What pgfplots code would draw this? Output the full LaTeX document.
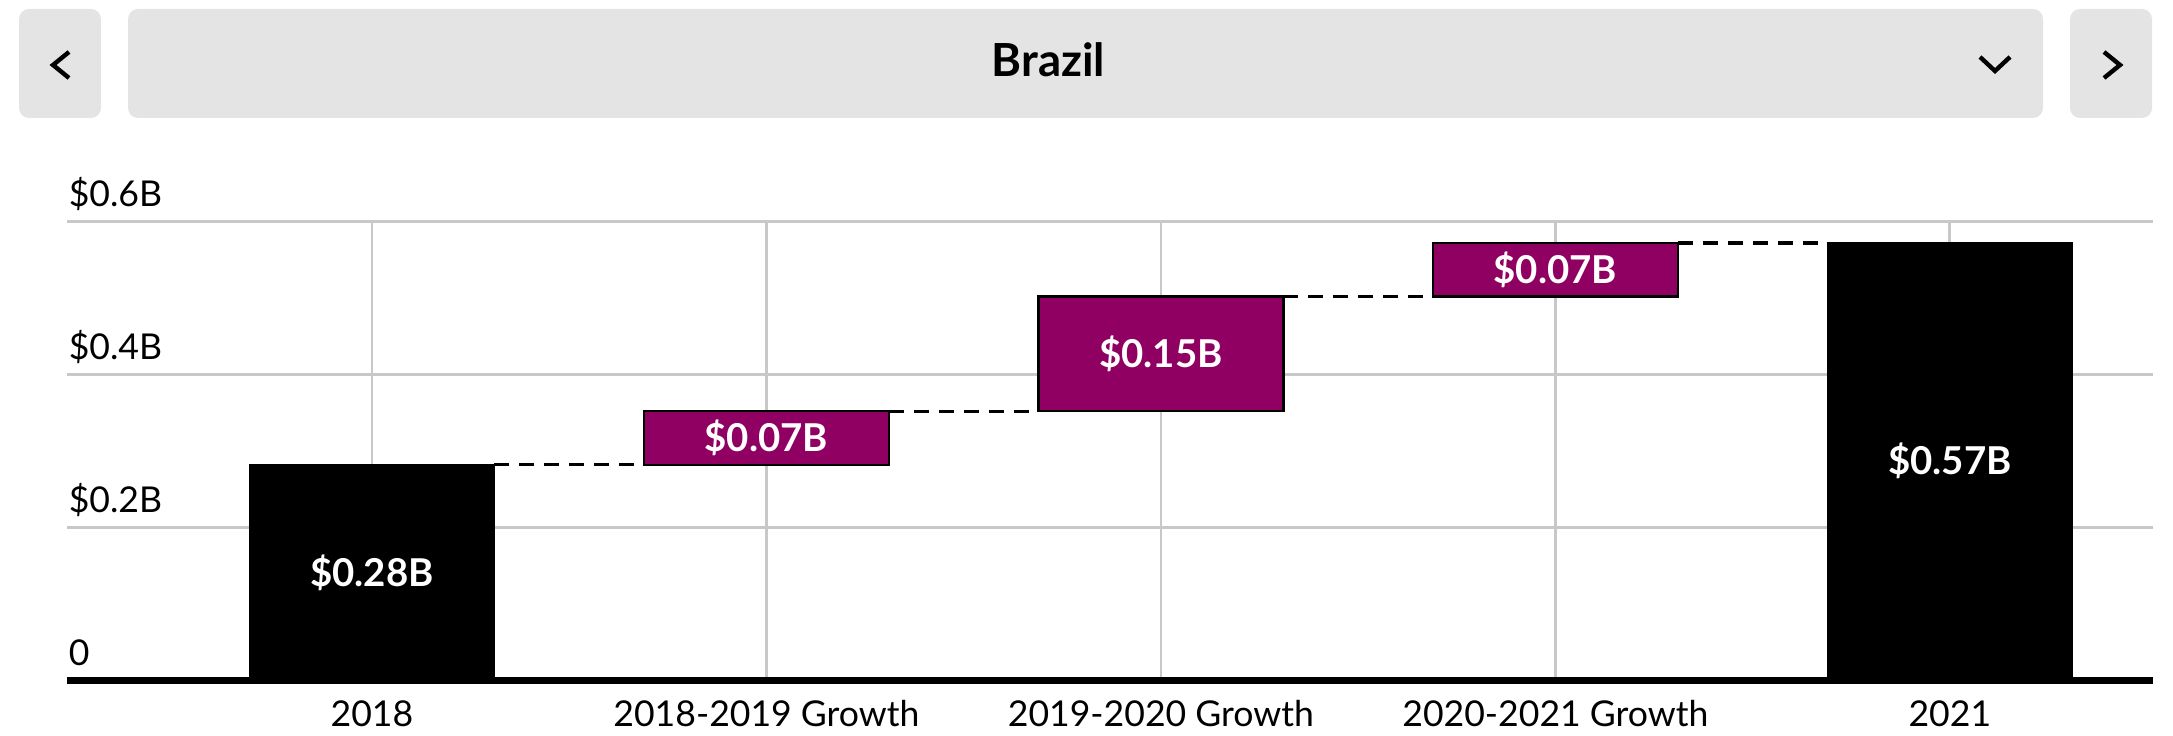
\documentclass[border=0pt]{standalone}
\usepackage{fontspec}
\setmainfont{Lato}
\usepackage{pgfplots}
\pgfplotsset{compat=1.18}

\definecolor{btn}{HTML}{E4E4E4}
\definecolor{grow}{HTML}{8F0062}
\definecolor{gridc}{HTML}{C8C8C8}

% all axes share the same frame
\pgfplotsset{wf/.style={
    scale only axis, width=521.5pt, height=114.75pt,
    at={(16.75pt,13.875pt)}, anchor=south west,
    xmin=-0.773, xmax=4.515, ymin=0, ymax=0.6,
}}

\begin{document}
\begin{tikzpicture}
\useasboundingbox (0,0) rectangle (543.25pt,184pt);

% selector bar on top
\fill[btn, rounded corners=2.5pt] (4.75pt,154.5pt) rectangle (25.25pt,181.75pt);
\fill[btn, rounded corners=2.5pt] (32pt,154.5pt) rectangle (510.75pt,181.75pt);
\fill[btn, rounded corners=2.5pt] (517.5pt,154.5pt) rectangle (538pt,181.75pt);
\draw[line width=1.1pt] (17.25pt,171pt) -- (13.25pt,167.75pt) -- (17.25pt,164.5pt);
\draw[line width=1.1pt] (526pt,171pt) -- (530pt,167.75pt) -- (526pt,164.5pt);
\draw[line width=1.1pt] (495pt,169.75pt) -- (498.75pt,166.25pt) -- (502.5pt,169.75pt);
\node[font=\bfseries\fontsize{11.4}{13}\selectfont, anchor=base, inner sep=0pt] at (262.1pt,164.8pt) {Brazil};

\begin{axis}[wf,
    axis x line*=bottom, axis y line*=left,
    x axis line style={line width=1.75pt, -},
    y axis line style={draw=none},
    xtick={0,1,2,3,4},
    xticklabels={2018, 2018-2019 Growth, 2019-2020 Growth, 2020-2021 Growth, 2021},
    ytick={0,0.2,0.4,0.6},
    yticklabels={0, \$0.2B, \$0.4B, \$0.6B},
    major tick length=0pt,
    grid=major, grid style={gridc, line width=0.7pt},
    xticklabel style={anchor=base, inner sep=0pt, yshift=-11.55pt, font=\fontsize{8.9}{10}\selectfont},
    yticklabel style={anchor=base west, inner sep=0pt, xshift=0.25pt, yshift=3.75pt, font=\fontsize{8.9}{10}\selectfont},
]
% totals
\addplot[ybar, bar width=0.621, bar shift=0pt, fill=black, draw=black]
    coordinates {(0,0.282) (4,0.572)};
% connectors
\addplot[black, line width=0.8pt, dash pattern=on 3.75pt off 2.5pt] coordinates {(0.3105,0.282) (0.6895,0.282)};
\addplot[black, line width=0.8pt, dash pattern=on 3.75pt off 2.5pt] coordinates {(1.3105,0.352) (1.6895,0.352)};
\addplot[black, line width=0.8pt, dash pattern=on 3.75pt off 2.5pt] coordinates {(2.3105,0.502) (2.6895,0.502)};
\addplot[black, line width=0.8pt, dash pattern=on 3.75pt off 2.5pt] coordinates {(3.3105,0.572) (3.6895,0.572)};
\end{axis}

\begin{axis}[wf, hide axis, ybar stacked, bar width=0.621]
% invisible offsets, then the growth steps
\addplot[draw=none, fill=none] coordinates {(1,0.282) (2,0.352) (3,0.502)};
\addplot[fill=grow, draw=black, line width=0.6pt] coordinates {(1,0.07) (2,0.15) (3,0.07)};
\end{axis}

% value labels on top of everything
\begin{axis}[wf, hide axis]
\tikzset{lbl/.style={text=white, font=\bfseries\fontsize{9.6}{11}\selectfont}}
\node[lbl] at (axis cs:0,0.141) {\$0.28B};
\node[lbl] at (axis cs:1,0.317) {\$0.07B};
\node[lbl] at (axis cs:2,0.427) {\$0.15B};
\node[lbl] at (axis cs:3,0.537) {\$0.07B};
\node[lbl] at (axis cs:4,0.287) {\$0.57B};
\end{axis}
\end{tikzpicture}
\end{document}
